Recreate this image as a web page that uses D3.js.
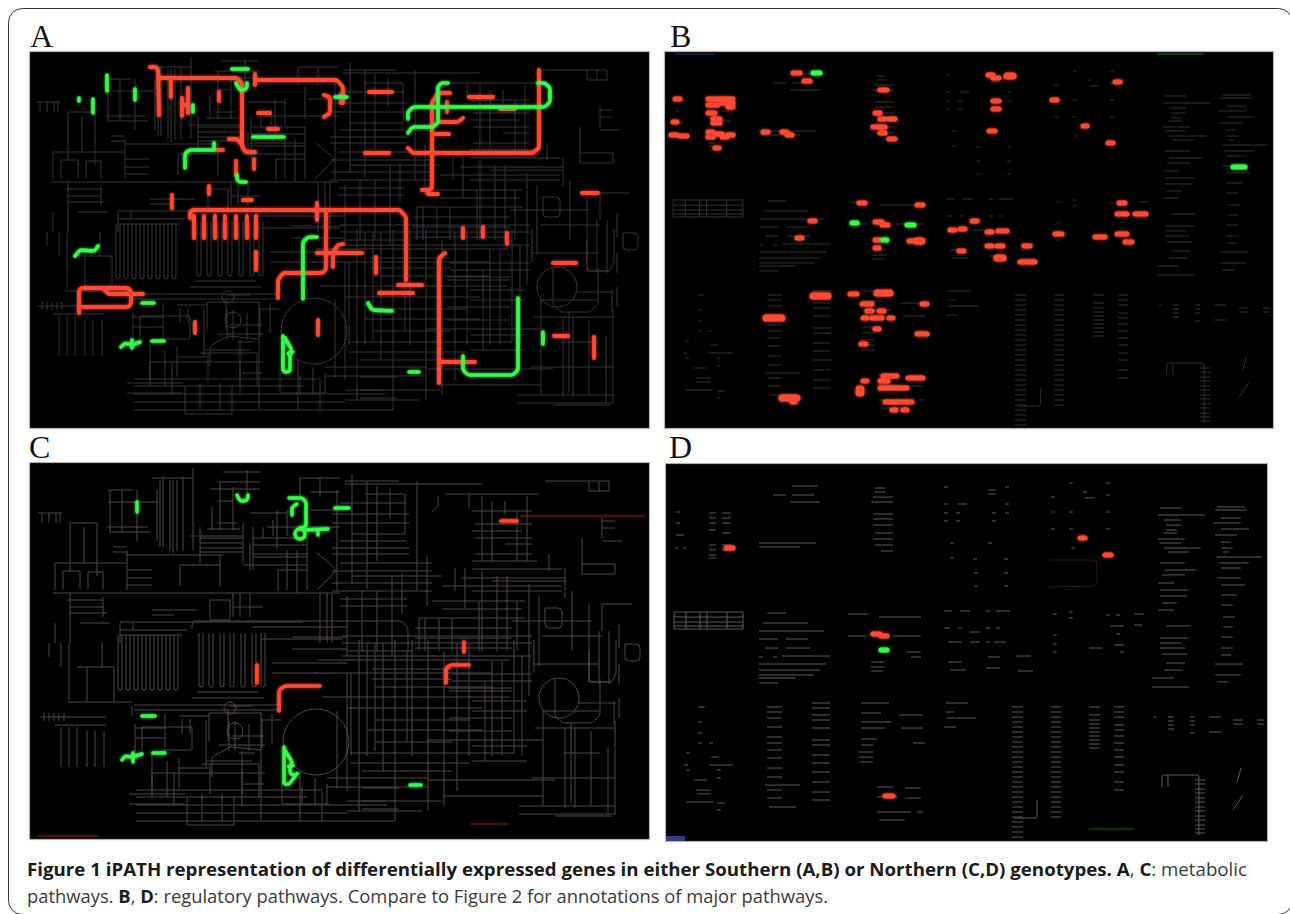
<!DOCTYPE html>
<html lang="en"><head>
<meta charset="utf-8">
<title>Figure 1 iPATH</title>
<script src="https://cdnjs.cloudflare.com/ajax/libs/d3/7.8.5/d3.min.js"></script>
<style>
html,body{margin:0;padding:0;background:#fff}
svg{display:block}
</style>
</head>
<body>
<svg id="fig" width="1290" height="914"></svg>
<script>
var mapH = [[36,60,102],[68,95,112],[106,155,91],[106,131,79],[105,146,116],[150,191,67],[53,125,152],[125,221,144],
[61,78,160],[86,101,161],[125,150,159],[125,150,167],[125,150,174],[111,125,136],[198,241,132],[198,241,137],[198,241,127],
[205,238,118],[215,235,112],[178,218,154],[215,258,71],[221,258,61],[251,305,127],[251,305,134],[251,305,143],[276,305,159],
[298,338,67],[308,338,81],[51,338,182],[118,301,211],[150,195,199],[150,172,204],[68,105,202],[78,108,212],[118,185,219],[118,180,224],
[208,228,189],[208,228,209],[343,397,70],[343,480,73],[363,403,83],[330,407,103],[330,407,112],[350,403,123],[330,407,137],[330,407,143],
[330,430,160],[330,430,172],[330,430,180],[338,430,152],[443,537,83],[473,530,113],[473,530,127],[503,530,133],[473,530,143],[460,563,167],[490,563,170],
[580,613,153],[580,613,163],[543,587,70],[587,607,70],[587,607,80],[600,613,110],[600,613,117],[600,620,130],[430,523,190],[600,630,193],
[413,510,217],[413,510,227],[413,510,237],[417,523,207],[75,112,256],[65,130,291],[38,104,306],[53,104,314],[132,279,294],[132,279,299],
[140,190,316],[259,279,309],[161,189,339],[149,263,362],[134,320,379],[134,305,386],[134,385,394],[134,345,402],[134,393,410],[185,232,414],
[316,508,249],[312,490,262],[373,490,276],[320,508,286],[345,480,297],[373,467,309],[365,480,319],[373,450,331],[348,512,342],[348,467,352],
[325,426,367],[325,426,376],[426,553,369],[530,597,253],[587,610,271],[577,614,292],[561,598,342],[553,610,405],[425,540,329],[540,597,300],
[250,345,216],[258,340,228],[345,410,240],[440,520,198],[345,440,390],[345,420,400],[205,250,350],[230,262,325],[242,262,373]];
var mapV = [[40,102,112],[47,102,112],[54,102,112],[58,102,112],[68,112,160],[95,112,165],[82,116,152],[108,79,122],[120,79,122],[135,79,130],[155,79,130],
[125,139,179],[158,69,136],[171,69,142],[181,66,140],[191,57,139],[53,152,179],[61,160,178],[78,160,178],[86,161,178],[101,161,178],[178,154,175],
[218,71,119],[218,144,176],[245,59,82],[241,112,152],[248,132,159],[285,139,179],[305,127,179],[276,159,180],[298,67,86],[271,109,125],[285,99,125],[228,189,209],
[208,189,209],[68,182,232],[53,212,232],[118,212,232],[131,212,219],[350,63,173],[388,78,107],[403,83,123],[400,163,203],[417,207,240],[453,157,180],[463,157,197],
[467,83,97],[503,90,103],[547,143,160],[563,157,187],[580,127,153],[613,153,163],[580,153,163],[587,70,80],[607,70,80],[597,70,80],[600,107,127],[477,190,240],
[527,173,285],[537,185,255],[570,180,240],[587,193,271],[600,193,220],[617,213,237],[423,207,240],[437,207,240],[450,207,240],[47,232,246],[59,232,256],[67,232,289],
[42,302,310],[47,302,310],[52,302,310],[57,302,310],[62,302,310],[59,316,356],[67,316,356],[75,316,356],[85,320,356],[93,320,356],[102,320,356],
[204,309,356],[226,299,330],[259,302,409],[185,386,414],[232,386,414],[357,229,400],[373,232,340],[381,232,360],[393,229,410],[410,229,345],[426,229,400],[442,240,395],
[455,232,380],[467,232,345],[483,270,350],[512,229,342],[532,229,262],[541,300,395],[569,312,392],[589,320,395],[606,336,402],[614,229,262],[612,290,312],[617,287,307],
[345,262,380],[335,300,378],[320,380,410],[298,360,410],[240,340,395],[150,340,386],[165,350,386],[172,362,395],[140,316,339],[190,316,339]];
// second pass over the denser parts of the map
var mapH2 = [[108,148,121],[111,125,141],[188,241,125],[198,241,141],[241,305,154],[251,305,146],[208,258,78],[215,231,90],[248,285,102],[265,338,116],[308,338,99],
[65,101,189],[68,101,196],[231,261,196],[340,530,225],[340,530,232],[340,530,245],[338,405,195],[338,405,188],[338,405,130],[338,405,92],[350,440,165],
[177,207,305],[207,260,302],[227,250,295],[217,263,334],[237,253,342],[200,257,353],[177,207,357],[127,183,383],[127,183,393],[280,327,393],[133,163,317],[133,163,327],
[447,510,277],[447,510,280],[447,510,307],[447,510,320],[360,397,377],[360,383,390],[360,397,398],[517,613,403],[533,613,317],[530,613,367],[517,613,395],
[470,535,150],[470,520,120],[470,530,100],[470,560,158],[440,560,175],[470,560,180],[510,590,210],[540,600,225],[370,450,258],[370,450,268],[450,530,263],[450,530,270],
[470,525,290],[470,525,300],[470,525,335],[470,525,350],[360,450,360],[440,540,385],[290,345,226],[290,345,238],[270,345,252],[270,316,262],[195,256,281],[190,262,287]];
var mapV2 = [[161,66,136],[168,69,140],[175,69,140],[198,116,152],[210,96,119],[231,76,119],[251,116,159],[261,116,127],[275,99,139],[295,139,182],[318,67,86],[305,86,119],[335,79,179],
[101,186,206],[231,182,206],[238,182,206],[248,182,206],[318,182,232],[325,182,232],[330,182,232],[345,185,245],[360,180,240],[375,180,240],[390,165,245],
[180,308,323],[188,308,323],[207,302,330],[227,310,340],[233,310,340],[247,313,340],[260,307,337],[270,303,333],[177,347,377],[208,353,383],[240,360,383],[257,353,387],[220,383,410],[200,383,410],
[150,363,380],[280,372,393],[300,375,393],[313,367,393],[325,373,393],[133,313,340],[163,303,337],[613,310,403],[573,317,397],[563,317,397],[597,220,273],[607,220,273],[617,253,273],
[365,70,178],[375,75,150],[415,70,180],[425,145,195],[480,85,150],[490,90,150],[515,100,150],[525,85,150],[480,160,240],[495,165,240],[505,165,240],[515,190,240],
[490,250,345],[500,250,345],[520,245,345],[405,240,330],[365,232,345],[349,262,345],[112,256,291],[130,295,305],[85,256,291],[100,232,256]];
// the two combs of tall loops
var combLoopX1 = [116,124,132,140,148,156,164,172];
var combLoopX2 = [194,204,215,225,236,247,256];
// rounded map pieces, [x,y] in panel A pixels
var mapCurves = [
  [[190,218],[190,210],[400,210],[406,217],[406,240]],
  [[543,197],[560,197],[560,217],[543,217],[543,197]],
  [[623,233],[638,233],[638,250],[623,250],[623,233]],
  [[210,366],[210,346],[228,336],[259,339]],
  [[315,142],[335,159],[315,179]],
  [[430,101],[436,95],[436,85]],
  [[587,240],[587,271],[610,271],[614,262]],
  [[553,268],[553,305],[561,312],[590,312],[598,304],[598,268]]
];
var mapRings = [[314,331,33],[557,287,20],[233,320,8],[228,297,6]];

// coloured pathways of panel A
var redA = [
  [[150,67],[158,67],[159,115]],
  [[159,78],[237,78],[242,83],[242,145],[245,152],[255,152]],
  [[229,139],[237,139],[242,145]],
  [[171,81],[171,97]],
  [[182,98],[182,116]],
  [[188,88],[188,113]],
  [[182,105],[188,105]],
  [[219,92],[219,101]],
  [[255,74],[255,85]],
  [[255,80],[337,80],[343,87],[343,103]],
  [[324,95],[330,97],[330,113],[324,117]],
  [[341,95],[341,103]],
  [[258,113],[270,113]],
  [[268,129],[278,129]],
  [[236,161],[236,175]],
  [[254,159],[254,169]],
  [[209,186],[209,194]],
  [[243,200],[252,200]],
  [[172,195],[172,208]],
  [[190,218],[190,210],[400,210],[406,217],[406,280]],
  [[317,203],[317,220]],
  [[326,210],[326,270],[322,273],[283,273],[278,280],[278,298]],
  [[194,216],[194,238]],[[204,216],[204,238]],[[215,216],[215,238]],[[225,216],[225,238]],
  [[236,216],[236,238]],[[247,216],[247,238]],[[256,216],[256,238]],
  [[256,252],[256,270]],
  [[317,253],[362,253]],
  [[333,267],[333,252],[338,245],[343,244]],
  [[376,257],[376,273]],
  [[398,285],[422,285]],
  [[379,293],[413,293]],
  [[463,228],[463,238]],[[483,227],[483,237]],[[507,233],[507,244]],
  [[445,253],[439,258],[439,383]],
  [[439,362],[475,362]],
  [[553,263],[576,263]],
  [[554,336],[568,336]],
  [[594,337],[594,358]],
  [[79,313],[79,288],[128,288],[131,291],[131,304],[128,307],[79,307]],
  [[103,288],[108,294],[143,294]],
  [[195,322],[195,333]],
  [[318,320],[318,335]],
  [[369,92],[392,92]],
  [[469,97],[493,97]],
  [[450,93],[438,93],[432,103],[432,190],[422,190]],
  [[428,194],[438,194]],
  [[440,122],[458,122],[463,118]],
  [[433,134],[449,134]],
  [[408,148],[413,153],[533,153],[539,148],[539,70]],
  [[500,109],[515,109]],
  [[365,153],[389,153]],
  [[447,102],[447,112]],
  [[582,193],[598,193]],
  [[217,150],[223,150]]
];
var greenA = [
  [[107,75],[107,91]],
  [[135,89],[135,100]],
  [[79,98],[79,101]],
  [[93,99],[93,113]],
  [[193,105],[193,112]],
  [[232,69],[248,69]],
  [[236,83],[240,90],[247,90],[247,83]],
  [[253,137],[284,137]],
  [[185,168],[185,153],[190,150],[214,150]],
  [[214,143],[214,150]],
  [[237,175],[237,182],[246,182]],
  [[335,97],[347,97]],
  [[448,83],[441,83],[438,87],[438,123],[433,127],[412,127],[408,133]],
  [[408,119],[408,112],[413,107],[545,107],[550,102],[550,88],[545,83],[538,83]],
  [[75,256],[80,250],[95,251],[98,246]],
  [[142,303],[154,303]],
  [[121,347],[125,343],[132,345],[140,342]],
  [[132,340],[132,348]],
  [[152,341],[164,341]],
  [[283,336],[283,370],[287,375],[290,370],[290,353],[293,352],[285,338]],
  [[317,237],[308,237],[303,242],[303,299]],
  [[368,303],[372,310],[392,311]],
  [[409,372],[419,372]],
  [[463,356],[463,370],[468,375],[513,375],[518,370],[518,298]],
  [[543,332],[543,344]]
];
// coloured pathways of panel C, in image pixels
var redC = [
  [[501,521],[517,521]],
  [[257,665],[257,683]],
  [[279,711],[279,690],[285,686],[320,686]],
  [[464,642],[464,652]],
  [[446,683],[446,668],[451,665],[469,665]]
];
var redThinC = [[[471,824],[508,824]],[[38,836],[98,836]],[[520,516],[645,516]]];
var greenC = [
  [[137,502],[137,512]],
  [[237,495],[240,501],[248,501],[248,495]],
  [[289,498],[303,498],[306,503],[306,527],[300,528]],
  [[292,515],[292,507],[297,504]],
  [[306,530],[328,529]],
  [[318,530],[318,535]],
  [[335,508],[349,508]],
  [[142,716],[155,716]],
  [[122,760],[125,756],[132,757],[142,754]],
  [[133,753],[133,762]],
  [[153,753],[165,753]],
  [[284,747],[284,783],[287,787],[290,783],[290,766],[294,765],[285,750]],
  [[410,785],[421,785]]
];
var greenRingC = [[300,534,5]];

// red and green pills of panel B, [x1,x2,y] in image pixels
var redB = [[793,800,73],[804,810,81],[880,887,90],[675,680,99],[708,725,99],[725,733,99],[708,718,105],[722,733,103],[728,733,107],
[708,715,113],[713,720,119],[713,720,123],[673,677,122],[671,677,135],[680,687,136],[708,713,132],[708,713,137],[713,722,134],[722,727,137],[728,733,135],
[715,719,148],[763,768,132],[782,787,132],[787,792,135],[875,880,113],[880,885,119],[889,895,119],[873,885,127],[880,885,133],[889,895,139],
[859,865,203],[917,923,205],[810,815,221],[875,882,222],[882,888,225],[972,977,221],[950,955,230],[960,965,229],
[797,802,238],[875,880,240],[909,914,241],[875,879,248],[959,964,251],[850,857,294],[862,872,304],[867,872,311],[879,884,311],
[863,867,318],[872,882,318],[889,893,318],[922,927,304],[875,879,329],[917,927,334],[861,866,344],[863,867,381],
[883,897,376],[880,888,381],[908,923,378],[880,907,388],[885,912,402],[892,896,410],[903,907,410],[792,795,402],
[988,993,75],[993,999,78],[993,999,101],[993,999,109],[989,995,131],[1052,1057,100],[1083,1087,126],[1115,1120,82],[1108,1113,143],
[1119,1125,203],[1117,1127,214],[1135,1146,214],[987,992,232],[998,1007,231],[1055,1062,234],[1095,1105,237],[1117,1127,234],
[1125,1132,242],[987,992,246],[997,1003,246],[1024,1030,246],[1020,1035,262]];
var redThickB = [[917,922,241],[813,828,296],[877,890,293],[766,782,318],[859,861,389],[859,861,393],[782,797,398],[1007,1013,76],[997,1003,258]];
var greenB = [[813,820,73],[852,857,223],[907,914,225],[883,887,240],[1233,1245,167]];
// panel D
var redD = [[726,733,548],[873,880,634],[881,887,636],[885,893,796],[1080,1085,538],[1105,1111,555]];
var greenD = [[881,887,650]];

// faint label fragments of the regulatory map, [x1,x2,y] in panel D pixels
var regRows = [[792,818,486],[773,786,495],[792,814,495],[790,820,502],[875,885,488],[875,885,492],[873,893,497],[871,893,502],
[873,893,514],[873,893,519],[873,893,525],[875,893,533],[873,893,539],[875,893,545],[881,893,551],
[709,716,513],[722,731,513],[709,716,518],[722,731,518],[709,716,523],[722,731,523],[709,716,530],[722,731,533],[709,716,545],[722,731,545],[709,716,550],[722,731,550],[709,716,555],[709,716,558],
[676,680,512],[676,680,523],[676,684,535],[675,678,548],[683,686,548],[759,816,543],[759,800,547],
[944,948,487],[944,948,504],[944,948,513],[944,948,521],[956,960,513],[956,960,521],[992,996,513],[992,996,521],[1005,1009,487],[1005,1009,504],[1005,1009,513],[988,996,490],[988,996,494],[958,967,504],[950,954,543],[988,992,543],[950,954,558],[973,977,559],[1004,1008,559],[974,978,573],[1004,1008,573],[974,978,586],[1004,1008,586],
[1051,1055,497],[1069,1073,483],[1106,1110,483],[1106,1110,495],[1083,1087,492],[1085,1095,498],[1051,1055,512],[1069,1073,512],[1106,1110,512],[1051,1055,529],[1069,1073,529],[1106,1110,529],[1071,1075,548],
[767,786,613],[763,808,623],[759,824,631],[759,778,639],[786,808,639],[765,778,648],[786,810,648],[759,763,657],[773,777,657],[782,830,656],[759,826,664],[759,820,670],[759,814,675],[759,796,678],[759,778,683],
[848,869,614],[879,921,617],[848,867,636],[893,921,636],[907,921,652],[911,921,657],[871,885,662],[871,885,667],[871,883,671],
[944,952,611],[960,970,611],[986,990,611],[996,1010,611],[944,950,628],[958,962,628],[986,990,628],[996,1000,628],[948,962,642],[970,980,642],[986,990,642],[994,1006,642],[970,980,632],[988,1000,657],[1016,1031,656],[1018,1033,671],[948,962,662],[986,1000,668],[950,966,670],
[1053,1057,614],[1069,1073,612],[1069,1073,618],[1106,1110,615],[1116,1120,615],[1134,1144,614],[1110,1124,626],[1134,1142,625],[1116,1120,634],[1053,1057,635],[1053,1057,644],[1114,1124,645],[1053,1057,652],[1089,1102,648],[1120,1124,652],
[698,705,707],[698,702,722],[698,702,733],[698,702,743],[709,713,743],[686,690,753],[711,719,757],[684,688,765],[709,733,765],[686,690,770],[717,721,770],[694,707,780],[717,721,778],[696,711,790],[697,711,794],[686,713,802],[717,725,803],[717,721,810],
[765,800,785],[769,796,807],[861,889,703],[861,881,713],[899,923,715],[861,891,722],[861,885,728],[901,923,728],[861,877,739],[913,925,743],[861,873,745],[859,873,752],[859,873,757],[859,873,762],[877,893,787],[905,921,788],[877,897,797],[905,921,798],[877,911,812],[917,923,812],[879,905,820],
[946,968,703],[946,954,712],[946,976,718],[944,956,727],
[1160,1181,508],[1158,1205,515],[1164,1181,520],[1166,1181,525],[1166,1177,530],[1164,1177,533],[1158,1185,539],[1160,1181,543],[1164,1201,548],[1168,1189,552],[1160,1185,563],[1164,1197,570],[1162,1185,575],[1158,1174,583],[1160,1189,590],[1160,1187,596],[1162,1177,603],[1158,1174,610],[1166,1191,626],[1160,1189,638],[1160,1181,643],[1160,1185,648],[1162,1187,654],[1166,1185,663],[1164,1183,670],[1152,1174,678],[1152,1189,687],
[1217,1245,507],[1215,1247,510],[1221,1241,518],[1213,1241,523],[1221,1249,529],[1215,1237,535],[1221,1231,542],[1221,1233,548],[1223,1229,552],[1217,1262,557],[1219,1249,563],[1221,1241,568],[1217,1241,578],[1221,1245,585],[1221,1237,595],[1221,1233,605],[1223,1235,617],[1223,1233,627],[1221,1233,637],[1221,1233,648],[1221,1231,655],[1215,1243,664],[1215,1241,675],[1217,1229,682],
[1154,1157,717],[1168,1174,717],[1190,1195,717],[1209,1221,717],[1233,1243,720],[1257,1264,720],[1168,1174,721],[1190,1195,721],[1233,1243,724],[1257,1264,724],[1168,1174,725],[1190,1195,725],[1168,1174,729],[1190,1195,733],[1209,1221,732]];
var regColA = [707,712,717,722,727,732,737,742,747,752,757,762,767,772,777,782,787,792,797,802,807,812,817,822,827,832,837];
var regColB = [707,712,717,722,727,732,737,742,747,752,757,762,767,772,777,782,787,792,797,802,807,812,817];
var regColC = [707,715,720,724,728,732,736,740,744,748];
var regColD = [707,712,717,725,730,736,743,750,757,765,772,782,790];
var regColE = [707,712,718,727,737,743,750,758,768,777,790,798];
var regColF = [703,708,715,720,728,740,745,755,763,772,782,792,800];
var regTicks = [780,784,789,793,798,802,807,811,816,820,825,829,833];
var regTableY = [612,617,622,626,629];
var regTableX = [674,686,700,707,727,743];
var regCurves = [
  [[1162,787],[1162,775],[1199,775],[1199,835]],
  [[1168,787],[1168,775]],
  [[1037,800],[1037,818],[1014,818]],
  [[1241,768],[1237,782]],
  [[1243,795],[1233,810]]
];

var captionBold1 = "Figure 1 iPATH representation of differentially expressed genes in either Southern (A,B) or Northern (C,D) genotypes. A";
var captionText = ["metabolic","pathways.","B","D","regulatory pathways. Compare to Figure 2 for annotations of major pathways."];

var svg = d3.select("#fig");
var defs = svg.append("defs");
defs.append("filter").attr("id","soft").attr("x","-5%").attr("y","-5%").attr("width","110%").attr("height","110%")
  .append("feGaussianBlur").attr("stdDeviation",0.5);
// soft halo under a slightly blurred stroke
var glow = defs.append("filter").attr("id","glow").attr("filterUnits","userSpaceOnUse")
  .attr("x",0).attr("y",0).attr("width",1290).attr("height",914);
glow.append("feGaussianBlur").attr("in","SourceGraphic").attr("stdDeviation",1.5).attr("result","halo");
glow.append("feGaussianBlur").attr("in","SourceGraphic").attr("stdDeviation",0.55).attr("result","core");
var gm = glow.append("feMerge");
gm.append("feMergeNode").attr("in","halo");
gm.append("feMergeNode").attr("in","core");

// outer frame
svg.append("rect").attr("x",8.5).attr("y",8.5).attr("width",1284).attr("height",906).attr("rx",14)
  .attr("fill","none").attr("stroke","#333").attr("stroke-width",1);

var panels = {
  A: {box:[30,649,52,428], lab:[30,47]},
  B: {box:[665,1273,52,428], lab:[670,47]},
  C: {box:[30,649,463,839], lab:[29,458]},
  D: {box:[666,1267,464,841], lab:[669,458]}
};
// where the shared maps land in each panel
var xMapA = d3.scaleLinear().domain([30,649]).range([30,649]);
var yMapA = d3.scaleLinear().domain([52,428]).range([52,428]);
var xMapC = d3.scaleLinear().domain([30,649]).range([32,651]);
var yMapC = d3.scaleLinear().domain([52,428]).range([463,839]);
var xRegD = d3.scaleLinear().domain([666,1267]).range([666,1267]);
var yRegD = d3.scaleLinear().domain([464,841]).range([464,841]);
var xRegB = d3.scaleLinear().domain([666,1267]).range([665,1273]);
var yRegB = d3.scaleLinear().domain([464,841]).range([52,429]);
var same = d3.scaleIdentity();

function roundedPath(pts, x, y, r) {
  var p = d3.path();
  p.moveTo(x(pts[0][0]), y(pts[0][1]));
  for (var i = 1; i < pts.length - 1; i++) {
    p.arcTo(x(pts[i][0]), y(pts[i][1]), x(pts[i+1][0]), y(pts[i+1][1]), r);
  }
  p.lineTo(x(pts[pts.length-1][0]), y(pts[pts.length-1][1]));
  return p.toString();
}

function makePanel(name) {
  var P = panels[name], b = P.box;
  svg.append("text").attr("x",P.lab[0]).attr("y",P.lab[1]).text(name)
    .attr("font-family","Liberation Serif").attr("font-size",32).attr("fill","#111");
  svg.append("rect").attr("x",b[0]-0.5).attr("y",b[2]-0.5).attr("width",b[1]-b[0]+1).attr("height",b[3]-b[2]+1)
    .attr("fill","#000").attr("stroke","#b5b0b8").attr("stroke-width",1.2);
  defs.append("clipPath").attr("id","clip"+name).append("rect")
    .attr("x",b[0]).attr("y",b[2]).attr("width",b[1]-b[0]).attr("height",b[3]-b[2]);
  return svg.append("g").attr("clip-path","url(#clip"+name+")");
}

function drawMap(g, x, y, col, w) {
  var m = g.append("g").attr("stroke",col).attr("stroke-width",w).attr("fill","none").attr("filter","url(#soft)");
  m.selectAll("line.h").data(mapH.concat(mapH2)).enter().append("line").attr("class","h")
    .attr("x1",function(d){return x(d[0]);}).attr("x2",function(d){return x(d[1]);})
    .attr("y1",function(d){return y(d[2]);}).attr("y2",function(d){return y(d[2]);});
  m.selectAll("line.v").data(mapV.concat(mapV2)).enter().append("line").attr("class","v")
    .attr("x1",function(d){return x(d[0]);}).attr("x2",function(d){return x(d[0]);})
    .attr("y1",function(d){return y(d[1]);}).attr("y2",function(d){return y(d[2]);});
  m.selectAll("path.c").data(mapCurves).enter().append("path").attr("class","c")
    .attr("d",function(d){return roundedPath(d,x,y,4);});
  m.selectAll("path.l1").data(combLoopX1).enter().append("path").attr("class","l1")
    .attr("d",function(d){return roundedPath([[d,224],[d,279],[d+4,279],[d+4,224]],x,y,2);});
  m.selectAll("path.l2").data(combLoopX2).enter().append("path").attr("class","l2")
    .attr("d",function(d){return roundedPath([[d+3,222],[d+3,276],[d+7,276],[d+7,222]],x,y,2);});
  m.selectAll("ellipse").data(mapRings).enter().append("ellipse")
    .attr("cx",function(d){return x(d[0]);}).attr("cy",function(d){return y(d[1]);})
    .attr("rx",function(d){return d[2];}).attr("ry",function(d){return d[2];});
}

function drawPaths(g, data, col, w, x, y) {
  g.append("g").attr("filter","url(#glow)").selectAll("path").data(data).enter().append("path")
    .attr("d",function(d){return roundedPath(d,x,y,4);})
    .attr("fill","none").attr("stroke",col).attr("stroke-width",w)
    .attr("stroke-linecap","round").attr("stroke-linejoin","round");
}

function drawPills(g, data, col, w) {
  g.append("g").attr("filter","url(#glow)").selectAll("line").data(data).enter().append("line")
    .attr("x1",function(d){return d[0];}).attr("x2",function(d){return d[1];})
    .attr("y1",function(d){return d[2];}).attr("y2",function(d){return d[2];})
    .attr("stroke",col).attr("stroke-width",w).attr("stroke-linecap","round");
}

function drawReg(g, x, y, col) {
  var m = g.append("g").attr("stroke",col).attr("stroke-width",1).attr("fill","none").attr("filter","url(#soft)");
  var rows = regRows
    .concat(regColA.map(function(v){return [1012,1023,v];}))
    .concat(regColB.map(function(v){return [1051,1061,v];}))
    .concat(regColC.map(function(v){return [1089,1100,v];}))
    .concat(regColD.map(function(v){return [1114,1124,v];}))
    .concat(regColE.map(function(v){return [767,782,v];}))
    .concat(regColF.map(function(v){return [812,830,v];}))
    .concat(regTicks.map(function(v){return [1195,1205,v];}))
    .concat(regTableY.map(function(v){return [674,743,v];}));
  m.selectAll("line.r").data(rows).enter().append("line").attr("class","r")
    .attr("x1",function(d){return x(d[0]);}).attr("x2",function(d){return x(d[1]);})
    .attr("y1",function(d){return y(d[2]);}).attr("y2",function(d){return y(d[2]);});
  m.selectAll("line.t").data(regTableX).enter().append("line").attr("class","t")
    .attr("x1",function(d){return x(d);}).attr("x2",function(d){return x(d);})
    .attr("y1",y(612)).attr("y2",y(629));
  m.selectAll("path").data(regCurves).enter().append("path")
    .attr("d",function(d){return roundedPath(d,x,y,2);});
}

var RED = "#ff4a33", GREEN = "#38f84c";

var gA = makePanel("A");
drawMap(gA, xMapA, yMapA, "#3a353c", 1);
drawPaths(gA, redA, RED, 3.8, same, same);
drawPaths(gA, greenA, GREEN, 3.6, same, same);

var gC = makePanel("C");
drawMap(gC, xMapC, yMapC, "#4e474e", 1);
drawPaths(gC, redThinC, "#8a2a1c", 0.8, same, same);
drawPaths(gC, redC, RED, 3.6, same, same);
drawPaths(gC, greenC, GREEN, 3.4, same, same);
gC.append("g").attr("filter","url(#glow)").selectAll("circle").data(greenRingC).enter().append("circle")
  .attr("cx",function(d){return d[0];}).attr("cy",function(d){return d[1];}).attr("r",function(d){return d[2];})
  .attr("fill","none").attr("stroke",GREEN).attr("stroke-width",3.4);

var gB = makePanel("B");
drawReg(gB, xRegB, yRegB, "#333133");
drawPaths(gB, [[[1157,54],[1203,54]]], "#145c1c", 1, same, same);
drawPaths(gB, [[[675,54],[715,54]]], "#14304c", 1, same, same);
drawPills(gB, redB, RED, 5);
drawPills(gB, redThickB, RED, 7);
drawPills(gB, greenB, GREEN, 5);

var gD = makePanel("D");
drawReg(gD, xRegD, yRegD, "#5e5a5e");
gD.append("rect").attr("x",666).attr("y",836).attr("width",19).attr("height",5).attr("fill","#3a3e80");
drawPaths(gD, [[[1049,560],[1097,560],[1097,586],[1049,587]]], "#2a1c14", 1, same, same);
drawPaths(gD, [[[1089,829],[1134,829]]], "#14461a", 1, same, same);
drawPills(gD, redD, RED, 5);
drawPills(gD, greenD, GREEN, 5);

// caption
var capFont = 18.5;
var cap1 = svg.append("text").attr("x",27).attr("y",876).attr("font-family","Open Sans").attr("font-size",capFont)
  .attr("fill","#3a3a3a").attr("textLength",1220).attr("lengthAdjust","spacingAndGlyphs");
cap1.append("tspan").attr("font-weight","bold").attr("fill","#1a1a1a").text(captionBold1);
cap1.append("tspan").text(", ");
cap1.append("tspan").attr("font-weight","bold").attr("fill","#1a1a1a").text("C");
cap1.append("tspan").text(": "+captionText[0]);
var cap2 = svg.append("text").attr("x",27).attr("y",903).attr("font-family","Open Sans").attr("font-size",capFont)
  .attr("fill","#3a3a3a").attr("textLength",801).attr("lengthAdjust","spacingAndGlyphs");
cap2.append("tspan").text(captionText[1]+" ");
cap2.append("tspan").attr("font-weight","bold").attr("fill","#1a1a1a").text(captionText[2]);
cap2.append("tspan").text(", ");
cap2.append("tspan").attr("font-weight","bold").attr("fill","#1a1a1a").text(captionText[3]);
cap2.append("tspan").text(": "+captionText[4]);
</script>
</body></html>
